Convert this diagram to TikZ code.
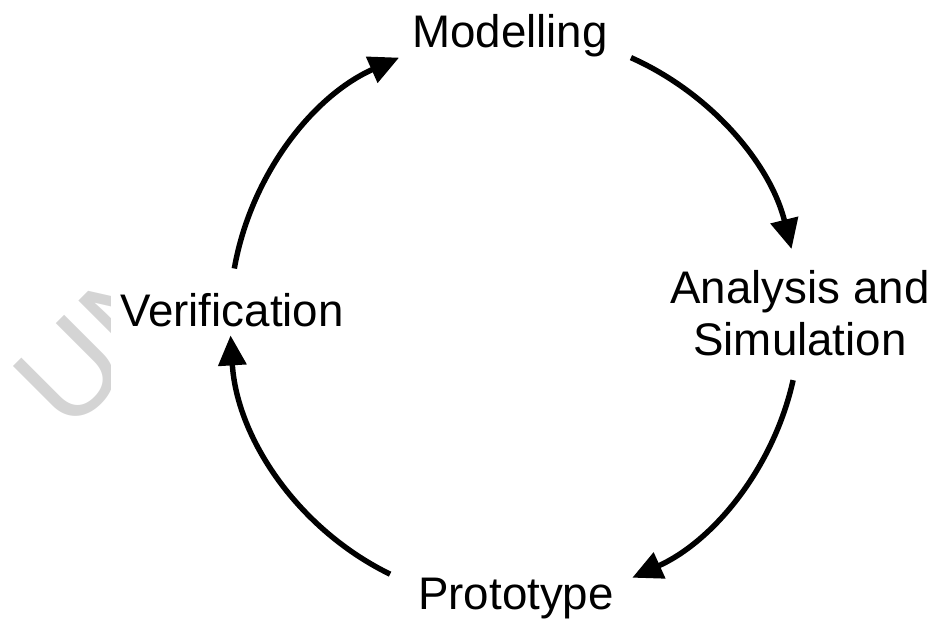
\documentclass[tikz,border=0pt]{standalone}
\usepackage{fontspec}
\setmainfont{Liberation Sans}
\usetikzlibrary{arrows.meta}

\begin{document}
\begin{tikzpicture}[lbl/.style={font=\fontsize{26}{29.6}\selectfont, inner sep=0pt},
  cyc/.style={line width=3.1pt, -{Triangle[length=0.6cm, width=0.55cm]}}]
\useasboundingbox (0,0) rectangle (18.72,12.38);
\begin{scope}
\clip (0,0) rectangle (2.2,12.38);
\node[anchor=base west, rotate=45, text=black!17, font=\fontsize{72.6}{80}\selectfont, inner sep=0pt] (wm) at (1.37,3.66) {UN};
\end{scope}
\node[lbl, anchor=base] (mod) at (10.2,11.42) {Modelling};
\node[lbl, anchor=north, align=center] (ana) at (16.0,6.98) {Analysis and\\Simulation};
\node[lbl, anchor=base] (ver) at (4.64,5.84) {Verification};
\node[lbl, anchor=base] (pro) at (10.32,0.18) {Prototype};
\begin{scope}[shift={(10.3,6.02)}]
\coordinate (a1) at (170:5.7);
\coordinate (a2) at (66:5.7);
\coordinate (a3) at (-12.6:5.7);
\coordinate (a4) at (-116:5.7);
\draw[cyc] (a1) arc[start angle=170, end angle=114, radius=5.7];
\draw[cyc] (a2) arc[start angle=66, end angle=14, radius=5.7];
\draw[cyc] (a3) arc[start angle=-12.6, end angle=-65.7, radius=5.7];
\draw[cyc] (a4) arc[start angle=-116, end angle=-176.5, radius=5.7];
\end{scope}
\end{tikzpicture}
\end{document}
